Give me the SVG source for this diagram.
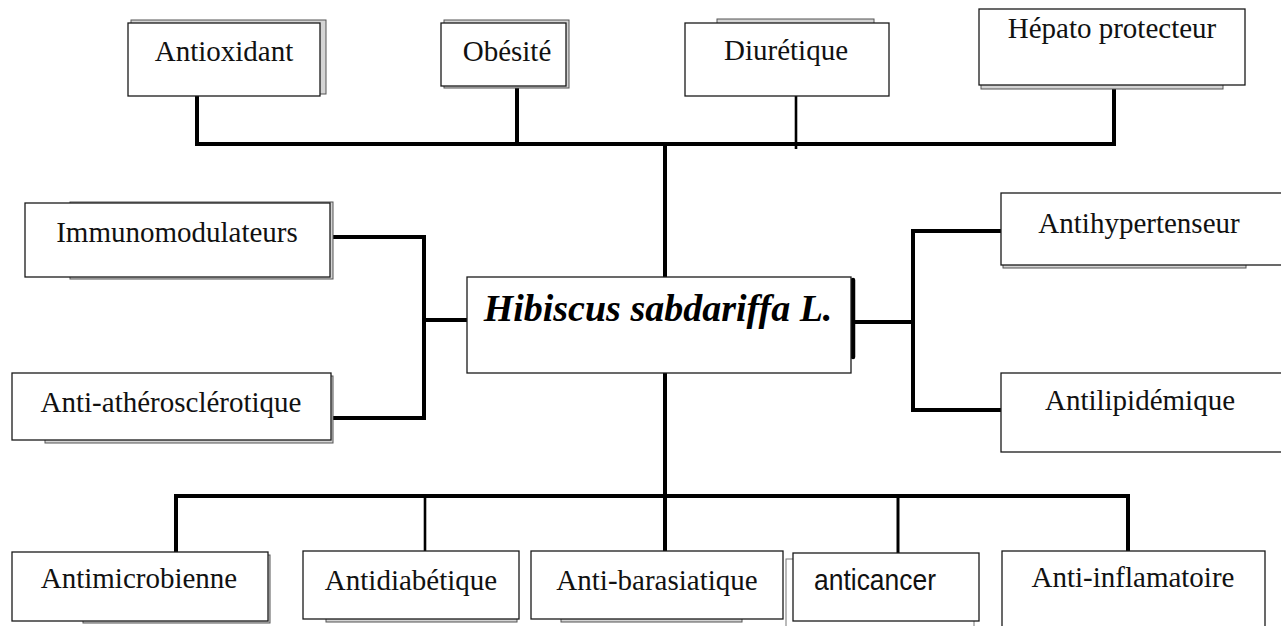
<svg xmlns="http://www.w3.org/2000/svg" width="1281" height="626" viewBox="0 0 1281 626">
  <style>
    .shadow { fill: #d4d4d4; stroke: #555; stroke-width: 1; }
    .shadow-w { fill: #ffffff; stroke: #777; stroke-width: 1; }
    .box { fill: #ffffff; stroke: #1a1a1a; stroke-width: 1.3; }
    .lbl { font-family: "Liberation Serif", "Times New Roman", serif; font-size: 29px; fill: #111; text-anchor: middle; }
    .sans { font-family: "Liberation Sans", Arial, sans-serif; font-size: 29px; fill: #111; }
    .title { font-family: "Liberation Serif", "Times New Roman", serif; font-size: 38px; font-weight: bold; font-style: italic; fill: #000; text-anchor: middle; }
    .wire { fill: none; stroke: #000; stroke-width: 4; stroke-linecap: square; stroke-linejoin: miter; }
    .wire-thin { fill: none; stroke: #000; stroke-width: 2.6; }
  </style>
  <rect width="1281" height="626" fill="#ffffff"/>

  <!-- connectors -->
  <g id="connectors">
    <!-- upper bus -->
    <path class="wire" d="M197,96 V144 H1114 V89"/>
    <path class="wire" d="M517,88 V144"/>
    <path class="wire-thin" d="M796,96 V149"/>
    <path class="wire" d="M665,144 V277"/>
    <!-- left branch -->
    <path class="wire" d="M334,237 H424 V418 H334"/>
    <path class="wire" d="M424,320 H467"/>
    <!-- right branch -->
    <path class="wire" d="M856,322 H913"/>
    <path class="wire" d="M1001,231 H913 V410 H1001"/>
    <!-- lower bus -->
    <path class="wire" d="M665,373 V551"/>
    <path class="wire" d="M176,552 V496 H1128 V551"/>
    <path class="wire-thin" d="M425,496 V551"/>
    <path class="wire-thin" d="M898,496 V553" style="stroke-width:3"/>
  </g>

  <!-- top row -->
  <g id="antioxidant">
    <rect class="shadow" x="131" y="20" width="195" height="74"/>
    <rect class="box" x="128" y="23" width="192" height="73"/>
    <text class="lbl" x="224" y="61">Antioxidant</text>
  </g>
  <g id="obesite">
    <rect class="shadow" x="444" y="20" width="125" height="68"/>
    <rect class="box" x="441" y="23" width="125" height="63"/>
    <text class="lbl" x="507" y="61">Obésité</text>
  </g>
  <g id="diuretique">
    <rect class="shadow" x="717" y="19" width="157" height="60"/>
    <rect class="box" x="685" y="23" width="204" height="73"/>
    <text class="lbl" x="786" y="60">Diurétique</text>
  </g>
  <g id="hepato">
    <rect class="shadow" x="981" y="20" width="242" height="69"/>
    <rect class="box" x="979" y="9" width="266" height="76"/>
    <text class="lbl" x="1112" y="38">Hépato protecteur</text>
  </g>

  <!-- left column -->
  <g id="immuno">
    <rect class="shadow" x="70" y="202" width="263" height="77"/>
    <rect class="box" x="25" y="203" width="305" height="74"/>
    <text class="lbl" x="177" y="242">Immunomodulateurs</text>
  </g>
  <g id="atherosclerotique">
    <rect class="shadow" x="45" y="376" width="288" height="67"/>
    <rect class="box" x="12" y="373" width="319" height="67"/>
    <text class="lbl" x="171" y="412">Anti-athérosclérotique</text>
  </g>

  <!-- centre -->
  <g id="hibiscus">
    <path d="M853,280 V357" stroke="#000" stroke-width="4.5" stroke-linecap="round" fill="none"/>
    <rect class="box" x="467" y="277" width="384" height="96"/>
    <text class="title" x="658" y="321">Hibiscus sabdariffa L.</text>
  </g>

  <!-- right column -->
  <g id="antihypertenseur">
    <rect class="shadow" x="1003" y="196" width="243" height="72"/>
    <rect class="box" x="1001" y="193" width="282" height="72"/>
    <text class="lbl" x="1139" y="233">Antihypertenseur</text>
  </g>
  <g id="antilipidemique">
    <rect class="box" x="1001" y="373" width="282" height="79"/>
    <text class="lbl" x="1140" y="410">Antilipidémique</text>
  </g>

  <!-- bottom row -->
  <g id="antimicrobienne">
    <rect class="shadow" x="83" y="555" width="187" height="68"/>
    <rect class="box" x="12" y="552" width="256" height="69"/>
    <text class="lbl" x="139" y="588">Antimicrobienne</text>
  </g>
  <g id="antidiabetique">
    <rect class="shadow" x="326" y="555" width="191" height="67"/>
    <rect class="box" x="303" y="551" width="216" height="68"/>
    <text class="lbl" x="411" y="590">Antidiabétique</text>
  </g>
  <g id="antibarasiatique">
    <rect class="shadow" x="561" y="555" width="181" height="67"/>
    <rect class="box" x="531" y="551" width="252" height="68"/>
    <text class="lbl" x="657" y="590">Anti-barasiatique</text>
  </g>
  <g id="anticancer">
    <rect class="shadow-w" x="786" y="559" width="188" height="75"/>
    <rect class="box" x="793" y="553" width="186" height="68"/>
    <text class="sans" x="814" y="590" textLength="122" lengthAdjust="spacingAndGlyphs">anticancer</text>
  </g>
  <g id="antiinflamatoire">
    <rect class="box" x="1002" y="551" width="263" height="90"/>
    <text class="lbl" x="1133" y="587">Anti-inflamatoire</text>
  </g>
</svg>
